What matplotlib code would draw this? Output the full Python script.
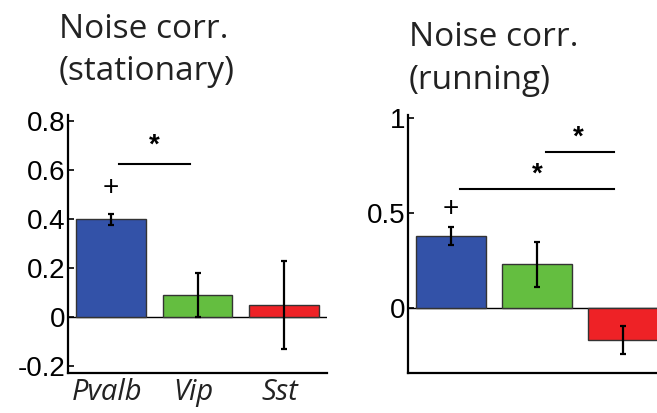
import numpy as np
import matplotlib
matplotlib.use('Agg')
import matplotlib.pyplot as plt

# dados
grupos = ['Pvalb', 'Vip', 'Sst']
cores = ['#3352A8', '#64BE40', '#EE2226']

media_parado = [0.40, 0.09, 0.05]
erro_parado = [0.022, 0.09, 0.18]

media_correndo = [0.38, 0.23, -0.17]
erro_correndo = [0.047, 0.12, 0.073]

fig = plt.figure(figsize=(6.57, 4.13), dpi=100)
fonte_tick = 'Liberation Sans'
fonte_texto = 'Open Sans'

x = np.arange(1, 4)


def desenha_painel(ax, medias, erros, ylim, yticks, ytick_labels):
    ax.bar(x, medias, width=0.81, color=cores, edgecolor='#333333', linewidth=1.0, zorder=2)
    ax.errorbar(x, medias, yerr=erros, fmt='none', ecolor='black', elinewidth=1.6,
                capsize=2.5, capthick=1.6, zorder=3)
    ax.axhline(0, color='black', linewidth=1.0, zorder=1)
    ax.set_xlim(0.5, 3.5)
    ax.set_ylim(*ylim)
    ax.set_yticks(yticks)
    ax.set_yticklabels(ytick_labels, fontsize=20, family=fonte_tick)
    ax.tick_params(axis='y', direction='in', length=4, width=1.2, pad=2)
    ax.set_xticks([])
    ax.spines['top'].set_visible(False)
    ax.spines['right'].set_visible(False)
    ax.spines['left'].set_linewidth(1.6)
    ax.spines['bottom'].set_linewidth(1.6)


# painel esquerdo (parado)
ax1 = fig.add_axes([68 / 657, 40 / 413, 259 / 657, 258 / 413])
desenha_painel(ax1, media_parado, erro_parado, (-0.228, 0.825),
               [-0.2, 0, 0.2, 0.4, 0.6, 0.8], ['-0.2', '0', '0.2', '0.4', '0.6', '0.8'])
for xi, nome in zip(x, grupos):
    ax1.text(xi - 0.05, -0.25, nome, ha='center', va='top', fontsize=21, style='italic',
             family=fonte_texto, color='#222222')
ax1.text(1, 0.527, '+', ha='center', va='center', fontsize=20, family=fonte_tick)
ax1.plot([1.09, 1.91], [0.625, 0.625], color='black', linewidth=1.5)
ax1.text(1.5, 0.70, '*', ha='center', va='center', fontsize=20, fontweight='bold',
         family=fonte_tick)

# painel direito (correndo)
ax2 = fig.add_axes([408 / 657, 40 / 413, 258 / 657, 258 / 413])
desenha_painel(ax2, media_correndo, erro_correndo, (-0.342, 1.016),
               [0, 0.5, 1], ['0', '0.5', '1'])
ax2.text(1, 0.52, '+', ha='center', va='center', fontsize=20, family=fonte_tick)
ax2.plot([1.10, 2.90], [0.625, 0.625], color='black', linewidth=1.5)
ax2.text(2.0, 0.70, '*', ha='center', va='center', fontsize=20, fontweight='bold',
         family=fonte_tick)
ax2.plot([2.11, 2.90], [0.82, 0.82], color='black', linewidth=1.5)
ax2.text(2.48, 0.895, '*', ha='center', va='center', fontsize=20, fontweight='bold',
         family=fonte_tick)

# titulos
fig.text(59 / 657, 1 - 38 / 413, 'Noise corr.', fontsize=24, family=fonte_texto,
         va='baseline', ha='left', color='#222222')
fig.text(59 / 657, 1 - 80 / 413, '(stationary)', fontsize=24, family=fonte_texto,
         va='baseline', ha='left', color='#222222')
fig.text(409 / 657, 1 - 46 / 413, 'Noise corr.', fontsize=24, family=fonte_texto,
         va='baseline', ha='left', color='#222222')
fig.text(409 / 657, 1 - 89 / 413, '(running)', fontsize=24, family=fonte_texto,
         va='baseline', ha='left', color='#222222')

fig.savefig('out.png', dpi=100)
